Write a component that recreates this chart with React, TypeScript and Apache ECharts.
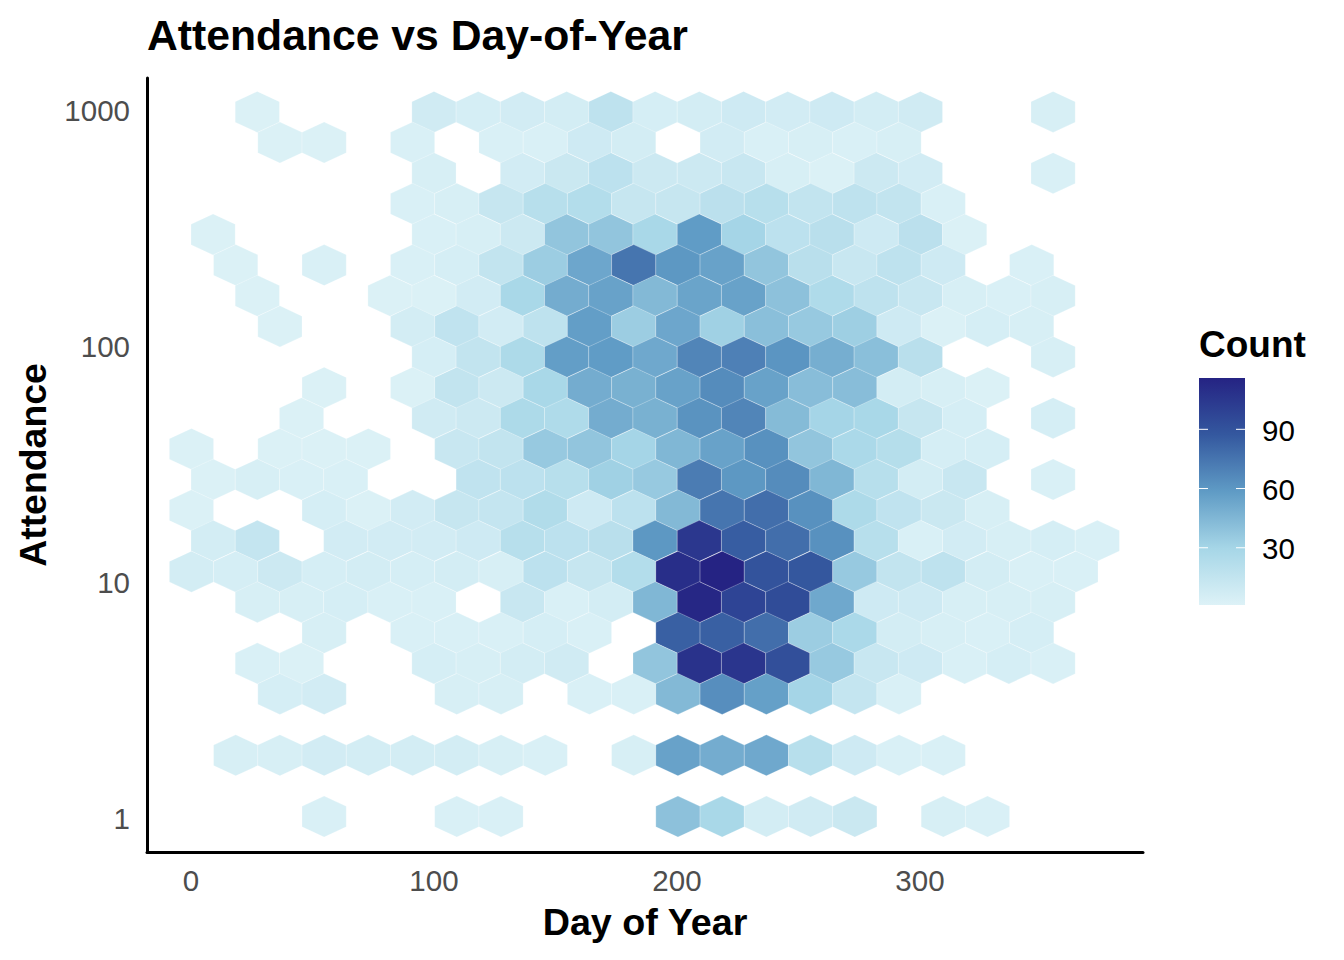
import React, { useEffect, useRef } from "react";
import * as echarts from "echarts";

const dayBinsEven = [-9.1, 9.1, 27.3, 45.5, 63.7, 81.9, 100, 118.2, 136.4, 154.6, 172.8, 191, 209.2, 227.4, 245.6, 263.8, 282, 300.2, 318.4, 336.6, 354.8, 373];
const dayBinsOdd = [0.2, 18.4, 36.6, 54.8, 73, 91.2, 109.4, 127.6, 145.8, 164, 182.2, 200.4, 218.6, 236.8, 255, 273.2, 291.4, 309.6, 327.8, 346, 364.2];
const attendanceBins = [990.8, 734.5, 544.5, 403.6, 299.2, 221.8, 164.4, 121.9, 90.4, 67.0, 49.7, 36.8, 27.3, 20.2, 15.0, 11.1, 8.24, 6.11, 4.53, 3.36, 2.49, 1.845, 1.368, 1.014];

const counts: number[][] = [
  [0,0,2,0,0,0,8,5,7,6,17,5,6,9,7,9,6,8,0,0,4,0],
  [0,0,2,2,0,3,0,3,3,9,6,0,7,3,4,3,4,0,0,0,0],
  [0,0,0,0,0,0,4,0,7,11,18,10,10,12,4,2,10,7,0,0,3,0],
  [0,0,0,0,0,3,4,13,21,23,13,13,19,21,15,17,15,3,0,0,0],
  [0,2,0,0,0,0,3,4,10,38,38,28,58,30,18,20,9,19,2,0,0,0],
  [0,2,0,3,0,3,5,15,34,53,75,60,55,38,20,12,17,9,0,3,0],
  [0,0,2,0,0,2,2,7,28,50,55,44,54,55,40,25,17,12,4,3,4,0],
  [0,0,2,0,0,6,16,7,17,57,34,53,32,41,36,33,9,2,5,4,0],
  [0,0,0,0,0,0,5,15,26,57,58,52,68,70,61,49,41,20,0,0,4,0],
  [0,0,0,2,0,2,15,10,28,50,48,55,65,55,42,42,6,4,2,0,0],
  [0,0,0,2,0,0,8,10,26,25,50,48,62,68,43,30,28,13,5,0,5,0],
  [2,0,2,2,2,0,12,15,36,38,30,45,55,63,38,27,22,5,5,0,0],
  [0,2,4,3,3,0,0,16,18,21,32,36,72,60,65,45,21,6,12,0,3,0],
  [2,0,0,5,2,7,13,14,24,9,18,44,75,78,63,26,16,11,4,0,0],
  [0,6,14,0,7,7,7,9,21,18,20,60,105,85,78,63,21,3,7,4,5,3],
  [6,5,10,5,6,5,6,4,18,13,23,110,116,90,88,36,15,17,6,3,3],
  [0,0,4,4,5,3,3,0,12,3,6,45,114,98,94,52,9,9,4,4,4,0],
  [0,0,0,4,0,3,3,3,5,3,0,84,84,78,34,27,6,4,3,5,0],
  [0,0,3,2,0,0,5,4,6,8,0,38,108,106,92,36,12,9,3,5,3,0],
  [0,0,5,7,0,0,4,4,0,3,3,44,64,56,30,14,3,0,0,0,0],
  [],
  [0,4,4,7,6,6,6,4,3,0,4,55,50,52,21,9,3,3,0,0,0],
  [],
  [0,0,0,3,0,0,3,3,0,0,0,40,28,6,8,11,0,4,3,0,0],
];

const legendTicks = [30, 60, 90];
const countRange = [1, 116];
const colorStops = ["#DDF2F7", "#A6D6E7", "#5F9BC5", "#34589F", "#252383"];
const xTickLabels = [0, 100, 200, 300];
const yTickLabels = [1, 10, 100, 1000];

const FONT = "'Liberation Sans', Arial, sans-serif";

const BAR = { left: 1199, top: 378, width: 46, height: 227 };
const HEX_HALF_WIDTH = 9.09; // days
const HEX_RADIUS = 0.087; // decades

export default function App() {
  const ref = useRef<HTMLDivElement>(null);

  useEffect(() => {
    if (!ref.current) return;
    const chart = echarts.init(ref.current, undefined, { renderer: "svg" });

    const data: number[][] = [];
    counts.forEach((row, r) => {
      const days = r % 2 === 0 ? dayBinsEven : dayBinsOdd;
      row.forEach((c, k) => {
        if (c > 0) data.push([days[k], attendanceBins[r], c]);
      });
    });

    const legendY = (v: number) =>
      BAR.top + ((countRange[1] - v) / (countRange[1] - countRange[0])) * BAR.height;

    const legendGraphics: any[] = [
      {
        type: "text",
        x: BAR.left,
        y: 344,
        style: { text: "Count", font: `bold 37px ${FONT}`, fill: "#000", textVerticalAlign: "middle" },
      },
      {
        type: "rect",
        shape: { x: BAR.left, y: BAR.top, width: BAR.width, height: BAR.height },
        style: {
          fill: new echarts.graphic.LinearGradient(
            0, 1, 0, 0,
            colorStops.map((color, i) => ({ offset: i / (colorStops.length - 1), color }))
          ),
        },
      },
    ];
    legendTicks.forEach((v) => {
      const y = legendY(v);
      legendGraphics.push(
        { type: "line", z: 100, shape: { x1: BAR.left, y1: y, x2: BAR.left + 9, y2: y }, style: { stroke: "#fff", lineWidth: 1 } },
        { type: "line", z: 100, shape: { x1: BAR.left + BAR.width - 9, y1: y, x2: BAR.left + BAR.width, y2: y }, style: { stroke: "#fff", lineWidth: 1 } },
        {
          type: "text",
          x: BAR.left + 63,
          y: y + 1,
          style: { text: String(v), font: `29.5px ${FONT}`, fill: "#000", textVerticalAlign: "middle" },
        }
      );
    });

    chart.setOption({
      animation: false,
      backgroundColor: "#fff",
      title: {
        text: "Attendance vs Day-of-Year",
        left: 147,
        top: 13,
        padding: 0,
        textStyle: { fontFamily: FONT, fontWeight: "bold", fontSize: 42.7, color: "#000" },
      },
      grid: { left: 147, right: 201, top: 78, bottom: 108, containLabel: false },
      xAxis: {
        type: "value",
        min: -18.1,
        max: 391.8,
        name: "Day of Year",
        nameLocation: "middle",
        nameGap: 51,
        nameTextStyle: { fontFamily: FONT, fontWeight: "bold", fontSize: 37.7, color: "#000" },
        axisLine: { show: true, onZero: false, lineStyle: { color: "#000", width: 3 } },
        axisTick: { show: false },
        splitLine: { show: false },
        axisLabel: {
          fontFamily: FONT,
          fontSize: 29.5,
          color: "#4d4d4d",
          margin: 13,
          customValues: xTickLabels,
        },
      },
      yAxis: {
        type: "log",
        logBase: 10,
        min: 0.7174,
        max: 1380,
        name: "Attendance",
        nameLocation: "middle",
        nameGap: 96,
        nameRotate: 90,
        nameTextStyle: { fontFamily: FONT, fontWeight: "bold", fontSize: 37.4, color: "#000" },
        axisLine: { show: true, onZero: false, lineStyle: { color: "#000", width: 3 } },
        axisTick: { show: false },
        splitLine: { show: false },
        axisLabel: {
          fontFamily: FONT,
          fontSize: 29.5,
          color: "#4d4d4d",
          margin: 17,
          formatter: (v: number) => {
            const n = Math.round(v);
            return yTickLabels.includes(n) && Math.abs(v - n) < 1e-6 ? String(n) : "";
          },
        },
      },
      visualMap: {
        type: "continuous",
        show: false,
        min: countRange[0],
        max: countRange[1],
        dimension: 2,
        seriesIndex: 0,
        inRange: { color: colorStops },
      },
      series: [
        {
          type: "custom",
          coordinateSystem: "cartesian2d",
          encode: { x: 0, y: 1 },
          data,
          clip: false,
          renderItem: (_p: any, api: any) => {
            const x = api.value(0);
            const y = api.value(1);
            const upper = Math.pow(10, HEX_RADIUS);
            const shoulder = Math.pow(10, HEX_RADIUS / 2);
            const points = [
              api.coord([x, y * upper]),
              api.coord([x + HEX_HALF_WIDTH, y * shoulder]),
              api.coord([x + HEX_HALF_WIDTH, y / shoulder]),
              api.coord([x, y / upper]),
              api.coord([x - HEX_HALF_WIDTH, y / shoulder]),
              api.coord([x - HEX_HALF_WIDTH, y * shoulder]),
            ];
            return {
              type: "polygon",
              shape: { points },
              style: { fill: api.visual("color"), stroke: "rgba(255,255,255,0.45)", lineWidth: 0.5 },
            };
          },
        },
      ],
      graphic: legendGraphics,
    });

    return () => chart.dispose();
  }, []);

  return <div ref={ref} style={{ position: "absolute", left: 0, top: 0, width: 1344, height: 960 }} />;
}
